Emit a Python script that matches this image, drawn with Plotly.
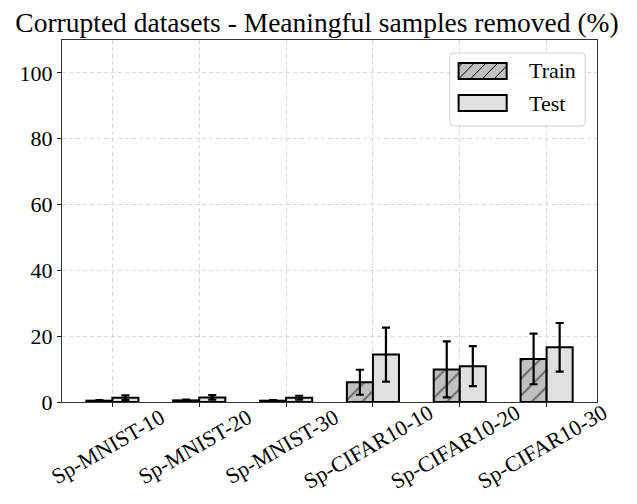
import plotly.graph_objects as go

categories = ["Sp-MNIST-10", "Sp-MNIST-20", "Sp-MNIST-30",
              "Sp-CIFAR10-10", "Sp-CIFAR10-20", "Sp-CIFAR10-30"]
train_mean = [0.4, 0.5, 0.4, 6.0, 9.9, 13.1]
train_err = [0.2, 0.2, 0.2, 3.8, 8.5, 7.7]
test_mean = [1.3, 1.4, 1.3, 14.4, 10.9, 16.6]
test_err = [0.7, 0.7, 0.6, 8.2, 6.1, 7.4]
y_ticks = [0, 20, 40, 60, 80, 100]

FONT = "Liberation Serif"
OFF = 8  # default page body margin
W, H = 637 - OFF, 504 - OFF
# plot area in page pixels
PL, PR, PT, PB = 52, 597, 40, 402
L, T = PL - OFF, PT - OFF
R, B = W - (PR - OFF), H - (PB - OFF)
PW, PH = PR - PL, PB - PT

x = list(range(len(categories)))

fig = go.Figure()
fig.add_trace(go.Bar(
    x=x, y=train_mean, name="Train", showlegend=False,
    marker=dict(color="#c0c0c0", line=dict(color="black", width=2),
                pattern=dict(shape="/", fgcolor="black", bgcolor="#c0c0c0",
                             size=12, solidity=0.15)),
    error_y=dict(type="data", array=train_err, color="black", thickness=2.2, width=4),
))
fig.add_trace(go.Bar(
    x=x, y=test_mean, name="Test", showlegend=False,
    marker=dict(color="#e0e0e0", line=dict(color="black", width=2)),
    error_y=dict(type="data", array=test_err, color="black", thickness=2.2, width=4),
))


def px(xp):
    return (xp - PL) / PW


def py(yp):
    return (PB - yp) / PH


shapes = []
# legend frame (rounded)
x0, x1, y0, y1 = 447, 585, 53, 126
r = 4
path = (f"M {px(x0 + r)},{py(y0)} L {px(x1 - r)},{py(y0)} "
        f"Q {px(x1)},{py(y0)} {px(x1)},{py(y0 + r)} L {px(x1)},{py(y1 - r)} "
        f"Q {px(x1)},{py(y1)} {px(x1 - r)},{py(y1)} L {px(x0 + r)},{py(y1)} "
        f"Q {px(x0)},{py(y1)} {px(x0)},{py(y1 - r)} L {px(x0)},{py(y0 + r)} "
        f"Q {px(x0)},{py(y0)} {px(x0 + r)},{py(y0)} Z")
shapes.append(dict(type="path", xref="paper", yref="paper", path=path,
                   fillcolor="rgba(255,255,255,0.8)", line=dict(color="#d0d0d0", width=1)))
# train swatch
sx0, sx1, ty0, ty1 = 456, 505, 63, 79
shapes.append(dict(type="rect", xref="paper", yref="paper",
                   x0=px(sx0), x1=px(sx1), y0=py(ty1), y1=py(ty0),
                   fillcolor="#c0c0c0", line=dict(width=0)))
hp = ""
step = 12
h = ty1 - ty0
for k in range(-2, 8):
    xa = sx0 + k * step
    xb = xa + h
    ya, yb = ty1, ty0
    if xa < sx0:
        ya = ty1 - (sx0 - xa)
        xa = sx0
    if xb > sx1:
        yb = ty0 + (xb - sx1)
        xb = sx1
    if xa < xb:
        hp += f"M {px(xa)},{py(ya)} L {px(xb)},{py(yb)} "
shapes.append(dict(type="path", xref="paper", yref="paper", path=hp,
                   line=dict(color="black", width=1)))
shapes.append(dict(type="rect", xref="paper", yref="paper",
                   x0=px(sx0), x1=px(sx1), y0=py(ty1), y1=py(ty0),
                   line=dict(color="black", width=2)))
# test swatch
ey0, ey1 = 95, 111
shapes.append(dict(type="rect", xref="paper", yref="paper",
                   x0=px(sx0), x1=px(sx1), y0=py(ey1), y1=py(ey0),
                   fillcolor="#e0e0e0", line=dict(color="black", width=2)))

annotations = [
    dict(text="Train", xref="paper", yref="paper", x=px(526), y=py(71),
         xanchor="left", yanchor="middle", showarrow=False,
         font=dict(family=FONT, size=22, color="black")),
    dict(text="Test", xref="paper", yref="paper", x=px(526), y=py(103),
         xanchor="left", yanchor="middle", showarrow=False,
         font=dict(family=FONT, size=22, color="black")),
]
# centred rotated category labels (matplotlib-style rotation=30, ha=center)
for xi, lab in zip(x, categories):
    annotations.append(dict(
        text=lab, xref="x", yref="paper", x=xi, y=py(453),
        xanchor="center", yanchor="middle", textangle=-30, showarrow=False,
        xshift=-4, yshift=6,
        font=dict(family=FONT, size=22, color="black")))

fig.update_layout(
    width=W, height=H,
    margin=dict(l=L, r=R, t=T, b=B),
    paper_bgcolor="white", plot_bgcolor="white",
    barmode="group", bargap=0.4, bargroupgap=0,
    font=dict(family=FONT, size=22, color="black"),
    title=dict(text="Corrupted datasets - Meaningful samples removed (%)",
               x=(317 - OFF) / W, xref="container", xanchor="center",
               y=1 - (22 - OFF) / H, yanchor="middle",
               font=dict(family=FONT, size=27.5, color="black")),
    shapes=shapes, annotations=annotations,
)
fig.update_xaxes(
    range=[-0.58, 5.58], tickmode="array", tickvals=x, showticklabels=False,
    ticks="outside", ticklen=4, tickcolor="#222",
    showline=True, linecolor="#333", linewidth=1, mirror=True,
    showgrid=True, gridcolor="#d8d8d8", griddash="4px,3px", gridwidth=1,
    zeroline=False,
)
fig.update_yaxes(
    range=[0, 110], tickmode="array", tickvals=y_ticks,
    ticks="outside", ticklen=4, tickcolor="#222",
    showline=True, linecolor="#333", linewidth=1, mirror=True,
    showgrid=True, gridcolor="#d8d8d8", griddash="4px,3px", gridwidth=1,
    zeroline=False, tickfont=dict(family=FONT, size=22),
)

fig.write_html("out.html")
